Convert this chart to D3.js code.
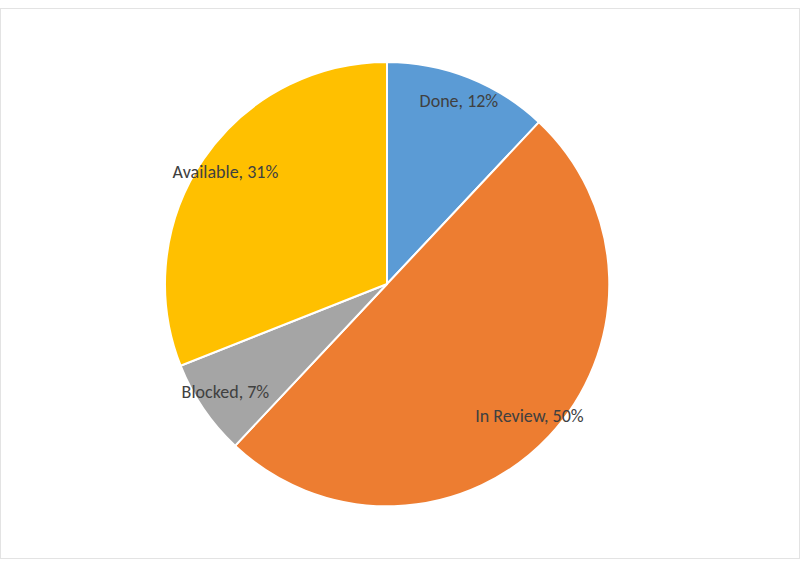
<!DOCTYPE html>
<html>
<head>
<meta charset="utf-8">
<style>
  body { margin: 0; background: #fff; }
  svg { font-family: Calibri, Carlito, "Liberation Sans", sans-serif; }
</style>
</head>
<body>
<svg id="chart" width="800" height="572"></svg>
<script src="https://cdn.jsdelivr.net/npm/d3@7"></script>
<script>
const categories = ['Done', 'In Review', 'Blocked', 'Available'];
const shares = [12, 50, 7, 31];
const colors = ['#5b9bd5', '#ed7d31', '#a5a5a5', '#ffc000'];

const svg = d3.select('#chart');
const cx = 387, cy = 284, r = 222;

// faint chart frame
svg.append('rect').attr('x', 0.5).attr('y', 8.5).attr('width', 799).attr('height', 550)
  .attr('fill', 'none').attr('stroke', '#e3e3e3');

const pie = d3.pie().sort(null).value(d => d)(shares);
const arc = d3.arc().innerRadius(0).outerRadius(r);
const labelArc = d3.arc().innerRadius(r * 0.88).outerRadius(r * 0.88);

const g = svg.append('g').attr('transform', `translate(${cx},${cy})`);
g.selectAll('path').data(pie).join('path')
  .attr('d', arc)
  .attr('fill', (d, i) => colors[i])
  .attr('stroke', '#fff').attr('stroke-width', 2);

g.selectAll('text').data(pie).join('text')
  .attr('transform', d => `translate(${labelArc.centroid(d)})`)
  .attr('text-anchor', 'middle').attr('dominant-baseline', 'middle')
  .attr('font-size', 18).attr('fill', '#404040')
  .text((d, i) => `${categories[i]}, ${shares[i]}%`);
</script>
</body>
</html>
